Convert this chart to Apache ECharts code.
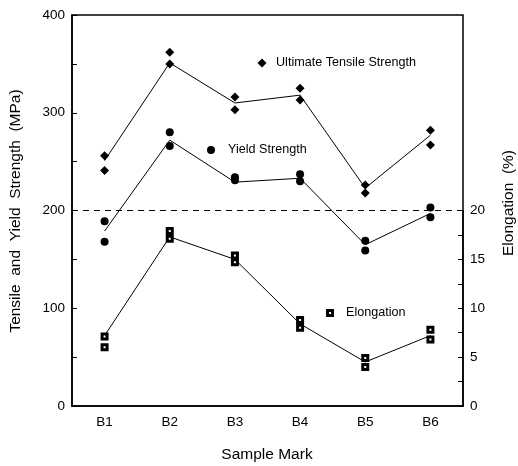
<!DOCTYPE html>
<html>
<head>
<meta charset="utf-8">
<script src="https://cdn.jsdelivr.net/npm/echarts@6/dist/echarts.min.js"></script>
<style>html,body{margin:0;padding:0;background:#fff}#c{width:518px;height:466px}</style>
</head>
<body>
<div id="c"></div>
<script>
const categories = ['B1', 'B2', 'B3', 'B4', 'B5', 'B6'];
// Ultimate tensile strength (MPa): two specimens and connecting line
const utsA = [256, 362, 316, 325, 226, 282];
const utsB = [241, 350, 303, 313, 218, 267];
const utsLine = [251, 351, 310, 318, 223, 277];
// Yield strength (MPa)
const ysA = [189, 280, 234, 237, 169, 203];
const ysB = [168, 266, 231, 230, 159, 193];
const ysLine = [179, 272, 229, 233, 165, 197];
// Elongation (%)
const elA = [7.1, 17.9, 15.4, 8.8, 4.9, 7.8];
const elB = [6.0, 17.1, 14.7, 8.0, 4.0, 6.8];
const elLine = [7.2, 17.3, 15.0, 8.4, 4.5, 7.2];
const refLine = 200;

const FONT = 'Liberation Sans, Arial, sans-serif';
const pairs = (a, b) => categories.map((c, i) => [c, a[i]]).concat(categories.map((c, i) => [c, b[i]]));

const chart = echarts.init(document.getElementById('c'), null, {renderer: 'canvas'});
const axisLineStyle = {color: '#000', width: 1.5};
chart.setOption({
  animation: false,
  backgroundColor: '#fff',
  grid: [
    {left: 72, right: 55, top: 15, bottom: 60, show: true, borderColor: '#000', borderWidth: 1.5, backgroundColor: 'transparent'},
    {left: 72, right: 55, top: 210.5, bottom: 60}
  ],
  xAxis: [
    {type: 'category', gridIndex: 0, data: categories, boundaryGap: true,
     axisLine: {lineStyle: axisLineStyle},
     axisTick: {inside: true, length: 6, alignWithLabel: true, lineStyle: {color: '#000', width: 1}},
     axisLabel: {color: '#000', fontSize: 13.5, fontFamily: FONT, margin: 9},
     splitLine: {show: false}},
    {type: 'category', gridIndex: 1, data: categories, boundaryGap: true, show: false}
  ],
  yAxis: [
    {type: 'value', gridIndex: 0, min: 0, max: 400, interval: 50,
     axisLine: {show: true, lineStyle: axisLineStyle},
     axisTick: {show: true, inside: true, length: 5, lineStyle: {color: '#000', width: 1}},
     axisLabel: {color: '#000', fontSize: 13.5, fontFamily: FONT, margin: 7,
                 formatter: v => (v % 100 === 0 ? String(v) : '')},
     splitLine: {show: false}},
    {type: 'value', gridIndex: 1, position: 'right', min: 0, max: 20, interval: 2.5,
     axisLine: {show: true, lineStyle: axisLineStyle},
     axisTick: {show: true, inside: true, length: 5, lineStyle: {color: '#000', width: 1}},
     axisLabel: {color: '#000', fontSize: 13.5, fontFamily: FONT, margin: 7,
                 formatter: v => (v % 5 === 0 ? String(v) : '')},
     splitLine: {show: false}}
  ],
  series: [
    {type: 'line', xAxisIndex: 0, yAxisIndex: 0, data: utsLine, symbol: 'none',
     lineStyle: {color: '#000', width: 1}, z: 2},
    {type: 'line', xAxisIndex: 0, yAxisIndex: 0, data: ysLine, symbol: 'none',
     lineStyle: {color: '#000', width: 1}, z: 2,
     markLine: {silent: true, symbol: 'none', label: {show: false},
                lineStyle: {color: '#000', width: 1.2, type: [6, 5]},
                data: [{yAxis: refLine}]}},
    {type: 'line', xAxisIndex: 1, yAxisIndex: 1, data: elLine, symbol: 'none',
     lineStyle: {color: '#000', width: 1}, z: 2},
    {type: 'scatter', name: 'Ultimate Tensile Strength', xAxisIndex: 0, yAxisIndex: 0,
     data: pairs(utsA, utsB), symbol: 'diamond', symbolSize: [9, 9], itemStyle: {color: '#000', opacity: 1}, z: 5},
    {type: 'scatter', name: 'Yield Strength', xAxisIndex: 0, yAxisIndex: 0,
     data: pairs(ysA, ysB), symbol: 'circle', symbolSize: 8, itemStyle: {color: '#000', opacity: 1}, z: 5},
    {type: 'scatter', name: 'Elongation', xAxisIndex: 1, yAxisIndex: 1,
     data: pairs(elA, elB), symbol: 'rect', symbolSize: 5,
     itemStyle: {color: '#fff', borderColor: '#000', borderWidth: 3, opacity: 1}, z: 5}
  ],
  graphic: [
    {type: 'text', x: 16, y: 211, rotation: Math.PI / 2,
     style: {text: 'Tensile  and  Yield  Strength  (MPa)', fill: '#000', font: '15.5px ' + FONT, align: 'center', verticalAlign: 'middle'}},
    {type: 'text', x: 509, y: 203, rotation: Math.PI / 2,
     style: {text: 'Elongation  (%)', fill: '#000', font: '15.5px ' + FONT, align: 'center', verticalAlign: 'middle'}},
    {type: 'text', x: 267, y: 455,
     style: {text: 'Sample Mark', fill: '#000', font: '15.5px ' + FONT, align: 'center', verticalAlign: 'middle'}},
    // legend entries
    {type: 'polygon', shape: {points: [[262, 58.5], [266.5, 63], [262, 67.5], [257.5, 63]]}, style: {fill: '#000'}},
    {type: 'text', x: 276, y: 63,
     style: {text: 'Ultimate Tensile Strength', fill: '#000', font: '12.6px ' + FONT, align: 'left', verticalAlign: 'middle'}},
    {type: 'circle', shape: {cx: 211, cy: 150, r: 4}, style: {fill: '#000'}},
    {type: 'text', x: 228, y: 150,
     style: {text: 'Yield Strength', fill: '#000', font: '12.6px ' + FONT, align: 'left', verticalAlign: 'middle'}},
    {type: 'rect', shape: {x: 327.5, y: 310.5, width: 5, height: 5}, style: {fill: '#fff', stroke: '#000', lineWidth: 3}},
    {type: 'text', x: 346, y: 313,
     style: {text: 'Elongation', fill: '#000', font: '12.6px ' + FONT, align: 'left', verticalAlign: 'middle'}}
  ]
});
</script>
</body>
</html>
